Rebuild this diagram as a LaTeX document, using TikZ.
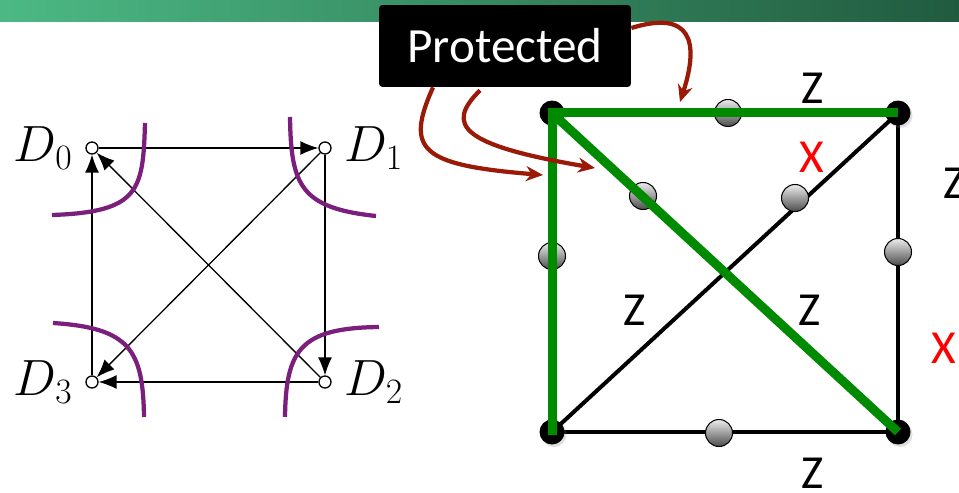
\RequirePackage{fix-cm}
\documentclass[tikz,border=0pt]{standalone}
\usepackage{fontspec}
\newfontfamily\slidefont{Carlito}
\usetikzlibrary{arrows.meta,calc,positioning,shadows}
\definecolor{bannerlight}{HTML}{4CB984}
\definecolor{bannerdark}{HTML}{215B3F}
\definecolor{cutpurple}{HTML}{7A1F7C}
\definecolor{protred}{HTML}{9A1A08}
\definecolor{logicgreen}{HTML}{008A00}
\newcommand{\dlabelfont}{\fontsize{29}{34}\selectfont}
\newcommand{\paulifont}{\fontsize{27}{32}\selectfont\slidefont}
\tikzset{
  dnode/.style={circle,draw,fill=white,inner sep=0pt,minimum size=0.24cm,line width=0.75pt},
  dlabel/.style={font=\dlabelfont,inner sep=0.25em,label distance=0.16cm},
  dedge/.style={->,line width=0.75pt,-{Latex[length=0.36cm,width=0.28cm]}},
  cut/.style={cutpurple,line width=0.085cm},
  stabedge/.style={black,line width=0.08cm},
  corner/.style={circle,fill=black,inner sep=0pt,minimum size=0.5cm,
    drop shadow={opacity=0.25,shadow xshift=0.04cm,shadow yshift=-0.05cm}},
  qubit/.style={circle,draw=black,line width=0.6pt,top color=gray!15,bottom color=black!70,
    inner sep=0pt,minimum size=0.54cm},
  logical/.style={logicgreen,line width=0.18cm},
  paulilabel/.style={font=\paulifont,inner sep=0pt},
  protbox/.style={fill=black,text=white,rounded corners=2pt,minimum width=5.04cm,
    minimum height=1.64cm,font=\fontsize{28}{32}\selectfont\slidefont},
  protarrow/.style={protred,line width=0.085cm,-{Stealth[length=0.34cm,width=0.3cm]}},
}

\begin{document}
\begin{tikzpicture}[x=0.02cm,y=-0.02cm,>=Latex]
  \clip (0,0) rectangle (959,493);
  \useasboundingbox (0,0) rectangle (959,493);
  % banner
  \shade[left color=bannerlight,right color=bannerdark] (0,0) rectangle (959,22);

  % decoder graph
  \node[dnode,label={[dlabel]left:$D_0$}] (d0) at (92,148) {};
  \node[dnode,label={[dlabel]right:$D_1$}] (d1) at (325,148) {};
  \node[dnode,label={[dlabel]right:$D_2$}] (d2) at (325,382) {};
  \node[dnode,label={[dlabel]left:$D_3$}] (d3) at (92,382) {};
  \draw[dedge] (d0) -- (d1);
  \draw[dedge] (d1) -- (d2);
  \draw[dedge] (d2) -- (d3);
  \draw[dedge] (d3) -- (d0);
  \draw[dedge] (d2) -- (d0);
  \draw[dedge] (d1) -- (d3);
  % cuts
  \draw[cut] (52,215) .. controls (140,212) and (143,190) .. (145,123);
  \draw[cut] (290,117) .. controls (291,185) and (300,208) .. (376,216);
  \draw[cut] (53,323) .. controls (130,328) and (143,350) .. (144,417);
  \draw[cut] (285,417) .. controls (286,350) and (300,328) .. (379,327);

  % surface patch
  \coordinate (tl) at (552,113);
  \coordinate (tr) at (898,113);
  \coordinate (br) at (898,432);
  \coordinate (bl) at (552,432);
  \draw[stabedge] (tl) -- (tr) -- (br) -- (bl) -- cycle;
  \draw[stabedge] (bl) -- (tr);
  \draw[stabedge] (tl) -- (br);
  \foreach \c in {tl,tr,br,bl} \node[corner] at (\c) {};
  \node[qubit] (qtop) at (728,113) {};
  \node[qubit] (qleft) at (552,256) {};
  \node[qubit] (qright) at (898,252) {};
  \node[qubit] (qbot) at (719,433) {};
  \node[qubit] (qdiag) at (643,196) {};
  \node[qubit] (qanti) at (795,198) {};
  \draw[logical] (bl) -- ([yshift=-0.06cm]bl) -- (tl) -- (tr);
  \draw[logical] (tl) -- (br);

  % pauli labels
  \node[paulilabel] (ztop) at (813,88) {Z};
  \node[paulilabel,anchor=west] (zright) at (943,183) {Z};
  \node[paulilabel,red] (xanti) at (812,157) {X};
  \node[paulilabel] (zleft) at (635,310) {Z};
  \node[paulilabel] (zmid) at (810,310) {Z};
  \node[paulilabel,red,anchor=west] (xright) at (931,348) {X};
  \node[paulilabel] (zbot) at (813,473) {Z};

  % protected
  \node[protbox] (prot) at (505,46) {Protected};
  \coordinate (ptop) at (680,102);
  \coordinate (pleft) at (543,175);
  \coordinate (pdiag) at (595,168);
  \draw[protarrow] ([yshift=0.36cm]prot.east) .. controls (690,10) and (700,40) .. (ptop);
  \draw[protarrow] ([xshift=-1.44cm]prot.south) .. controls (405,150) and (420,165) .. (pleft);
  \draw[protarrow] ([xshift=-0.5cm,yshift=-0.06cm]prot.south) .. controls (445,125) and (460,145) .. (pdiag);
\end{tikzpicture}
\end{document}
